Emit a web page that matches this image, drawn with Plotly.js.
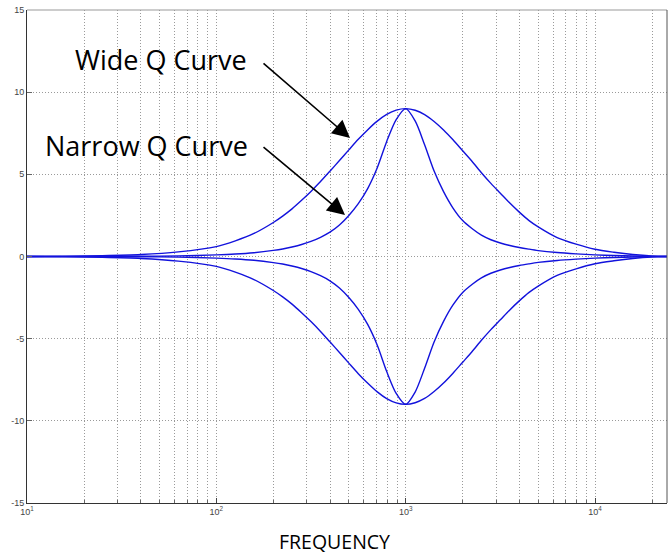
<!DOCTYPE html>
<html><head><meta charset="utf-8">
<script src="https://cdn.plot.ly/plotly-3.0.1.min.js"></script>
<style>html,body{margin:0;padding:0;background:#fff;}#chart{width:669px;height:556px;}</style>
</head><body><div id="chart"></div>
<script>
const freq = [10,16,25,40,63,100,126,158,200,224,251,282,316,355,398,447,501,562,631,708,794,891,1000,1122,1259,1413,1585,1778,1995,2239,2512,2818,3162,3548,3981,4467,5012,6310,7943,10000,12589,15849,19953,24000];
const wideBoost = [0,0.02,0.05,0.12,0.28,0.6,0.95,1.4,2.07,2.46,2.9,3.42,3.96,4.56,5.19,5.84,6.49,7.13,7.72,8.24,8.65,8.91,9.0,8.9,8.64,8.22,7.7,7.1,6.45,5.8,5.1,4.45,3.85,3.25,2.7,2.2,1.8,1.15,0.75,0.44,0.26,0.12,0.03,0];
const narrowBoost = [0,0.005,0.01,0.015,0.04,0.1,0.15,0.23,0.37,0.46,0.58,0.73,0.92,1.17,1.48,1.92,2.5,3.22,4.15,5.4,7.0,8.33,9.0,8.25,6.8,5.2,3.95,2.95,2.2,1.7,1.3,1.02,0.82,0.67,0.55,0.45,0.36,0.24,0.16,0.1,0.06,0.03,0.01,0];
const wideCut = [0,-0.02,-0.05,-0.12,-0.28,-0.6,-0.95,-1.4,-2.07,-2.46,-2.9,-3.42,-3.96,-4.56,-5.19,-5.84,-6.49,-7.13,-7.72,-8.24,-8.65,-8.91,-9.0,-8.9,-8.64,-8.22,-7.7,-7.1,-6.45,-5.8,-5.1,-4.45,-3.85,-3.25,-2.7,-2.2,-1.8,-1.15,-0.75,-0.44,-0.26,-0.12,-0.03,0];
const narrowCut = [0,-0.005,-0.01,-0.015,-0.04,-0.1,-0.15,-0.23,-0.37,-0.46,-0.58,-0.73,-0.92,-1.17,-1.48,-1.92,-2.5,-3.22,-4.15,-5.4,-7.0,-8.33,-9.0,-8.25,-6.8,-5.2,-3.95,-2.95,-2.2,-1.7,-1.3,-1.02,-0.82,-0.67,-0.55,-0.45,-0.36,-0.24,-0.16,-0.1,-0.06,-0.03,-0.01,0];

const xTickVals = [10,100,1000,10000];
const xTickText = ['10<sup>1</sup>','10<sup>2</sup>','10<sup>3</sup>','10<sup>4</sup>'];
const xMinorVals = [20,30,40,50,60,70,80,90,200,300,400,500,600,700,800,900,2000,3000,4000,5000,6000,7000,8000,9000,20000];
const yTickVals = [-15,-10,-5,0,5,10,15];
const yTickText = ['-15','-10','-5','0','5','10','15'];
const xLabel = 'FREQUENCY';
const wideLabel = 'Wide Q Curve';
const narrowLabel = 'Narrow Q Curve';

const lineStyle = {color:'#1212dc', width:1.4, shape:'spline', smoothing:0.8};
const traces = [wideBoost, narrowBoost, wideCut, narrowCut].map(v => ({
  x: freq, y: v, type:'scatter', mode:'lines', line: lineStyle, hoverinfo:'skip'
}));

const gridCol = '#9a9a9a';
const gridDash = '1px,2px';
const layout = {
  width:669, height:556,
  margin:{l:27, r:2, t:10, b:53},
  paper_bgcolor:'#fff', plot_bgcolor:'#fff',
  showlegend:false,
  font:{family:'Liberation Sans, Arial, sans-serif', size:9, color:'#444'},
  xaxis:{
    type:'log', range:[1, Math.log10(24000)], autorange:false,
    tickmode:'array', tickvals:xTickVals, ticktext:xTickText,
    ticks:'inside', ticklen:5, tickcolor:'#444', tickwidth:1,
    showgrid:true, gridcolor:gridCol, griddash:gridDash, gridwidth:1,
    minor:{tickmode:'array', tickvals:xMinorVals, ticks:'inside', ticklen:3, tickcolor:'#666',
           showgrid:true, gridcolor:gridCol, griddash:gridDash, gridwidth:1},
    showline:true, linecolor:'#333', linewidth:1, mirror:false,
    zeroline:false, tickfont:{size:9, color:'#444'}
  },
  yaxis:{
    range:[-15,15], autorange:false,
    tickmode:'array', tickvals:yTickVals, ticktext:yTickText,
    ticks:'inside', ticklen:5, tickcolor:'#666', tickwidth:1,
    showgrid:true, gridcolor:gridCol, griddash:gridDash, gridwidth:1,
    showline:true, linecolor:'#333', linewidth:1, mirror:false,
    zeroline:false, tickfont:{size:9, color:'#444'}
  },
  shapes:[
    {type:'line', xref:'paper', yref:'paper', x0:0, x1:1, y0:1, y1:1, line:{color:'#999', width:1}},
    {type:'line', xref:'paper', yref:'paper', x0:1, x1:1, y0:0, y1:1, line:{color:'#555', width:1}}
  ],
  annotations:[
    {xref:'paper', yref:'paper', x:0.0719, y:0.8986, xanchor:'left', yanchor:'middle',
     text:wideLabel, showarrow:false, font:{family:'Open Sans, sans-serif', size:27, color:'#000'}},
    {xref:'paper', yref:'paper', x:0.025, y:0.726, xanchor:'left', yanchor:'middle',
     text:narrowLabel, showarrow:false, font:{family:'Open Sans, sans-serif', size:27, color:'#000'}},
    {xref:'paper', yref:'paper', x:0.5047, y:0.7404, text:'', showarrow:true,
     axref:'pixel', ayref:'pixel', ax:-88, ay:-76, arrowhead:2, arrowsize:2.2, arrowwidth:1.6, arrowcolor:'#000', standoff:0},
    {xref:'paper', yref:'paper', x:0.4969, y:0.5842, text:'', showarrow:true,
     axref:'pixel', ayref:'pixel', ax:-83, ay:-69, arrowhead:2, arrowsize:2.2, arrowwidth:1.6, arrowcolor:'#000', standoff:0},
    {xref:'paper', yref:'paper', x:0.481, y:-0.0791, xanchor:'center', yanchor:'middle', borderpad:0,
     text:xLabel, showarrow:false, font:{family:'Open Sans, sans-serif', size:19.5, color:'#000'}}
  ]
};
Plotly.newPlot('chart', traces, layout, {staticPlot:true, displayModeBar:false});
</script>
</body></html>
